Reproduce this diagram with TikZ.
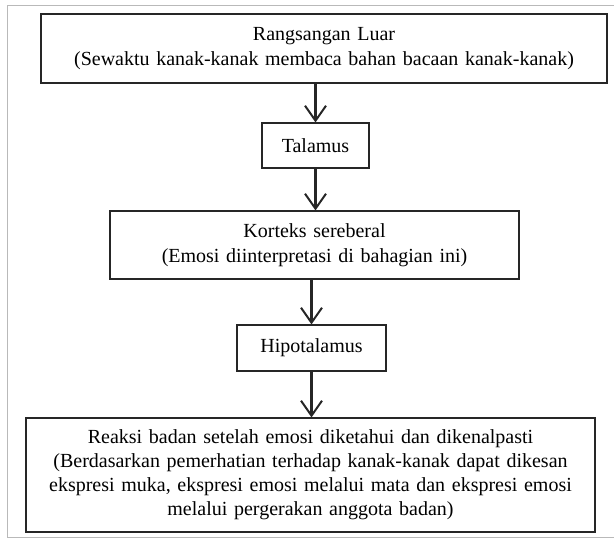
\documentclass[tikz,border=0pt]{standalone}
\usepackage{fontspec}
\setmainfont{Liberation Serif}
\usepackage{tikz}
\usetikzlibrary{arrows.meta}
\usepackage{xcolor}
\definecolor{ink}{HTML}{262626}

\tikzset{
  stepbox/.style={draw=ink, line width=1.1pt, rectangle, inner sep=0pt, align=center,
    font=\fontsize{20}{25}\selectfont, text=black},
  flow/.style={draw=ink, line width=2.2pt, -{Straight Barb[length=15pt,width=21pt,line width=2pt]}}
}

\begin{document}
\begin{tikzpicture}[x=1pt,y=-1pt]
\useasboundingbox (0,0) rectangle (614,541);

% outer frame of the scan
\draw[gray!55, line width=1pt] (614,5) -- (7,5) -- (7,537) -- (614,537);

% the five stages
\node[stepbox, minimum width=566pt, minimum height=69pt, text width=550pt] (luar) at (324,48.5)
  {Rangsangan Luar\\(Sewaktu kanak-kanak membaca bahan bacaan kanak-kanak)};
\node[stepbox, minimum width=107pt, minimum height=45pt] (talamus) at (315.5,145.5) {Talamus};
\node[stepbox, minimum width=409pt, minimum height=68pt, text width=400pt] (korteks) at (314.5,245)
  {Korteks sereberal\\(Emosi diinterpretasi di bahagian ini)};
\node[stepbox, minimum width=149pt, minimum height=46pt] (hipo) at (311.5,348) {Hipotalamus};
\node[stepbox, minimum width=569pt, minimum height=114pt, text width=560pt,
  font=\fontsize{20}{24}\selectfont] (reaksi) at (310.5,475)
  {Reaksi badan setelah emosi diketahui dan dikenalpasti\\
   (Berdasarkan pemerhatian terhadap kanak-kanak dapat dikesan\\
   ekspresi muka, ekspresi emosi melalui mata dan ekspresi emosi\\
   melalui pergerakan anggota badan)};

% arrows between stages
\draw[flow] (talamus.north |- luar.south) -- (talamus.north);
\draw[flow] (talamus.south) -- (talamus.south |- korteks.north);
\draw[flow] (hipo.north |- korteks.south) -- (hipo.north);
\draw[flow] (hipo.south) -- (hipo.south |- reaksi.north);

\end{tikzpicture}
\end{document}
